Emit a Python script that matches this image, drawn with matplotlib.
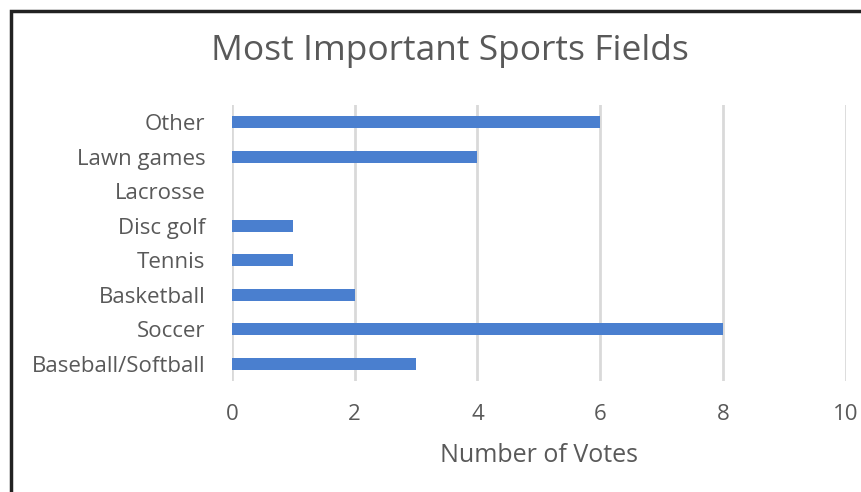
import matplotlib.pyplot as plt
from matplotlib.patches import Rectangle

# data
categories = ["Baseball/Softball", "Soccer", "Basketball", "Tennis",
              "Disc golf", "Lacrosse", "Lawn games", "Other"]
votes = [3, 8, 2, 1, 1, 0, 4, 6]
x_ticks = [0, 2, 4, 6, 8, 10]

plt.rcParams['font.family'] = ['Open Sans', 'DejaVu Sans']
grey = "#595959"

fig = plt.figure(figsize=(8.62, 4.92), dpi=100)
ax = fig.add_axes([0.2691, 0.225, 0.7118, 0.5622])

ax.barh(range(len(categories)), votes, height=0.35, color="#4a7fcf", zorder=3)

ax.set_xlim(0, 10)
ax.set_ylim(-0.5, len(categories) - 0.5)
ax.set_xticks(x_ticks)
ax.set_yticks(range(len(categories)))
ax.set_yticklabels(categories)
ax.tick_params(axis="both", length=0, labelsize=16, colors=grey)
ax.tick_params(axis="x", pad=16.5)
ax.tick_params(axis="y", pad=19)

ax.grid(axis="x", color="#d9d9d9", linewidth=2, zorder=0)
for s in ax.spines.values():
    s.set_visible(False)

ax.set_xlabel("Number of Votes", fontsize=18, color=grey, labelpad=12.5)
fig.text(0.522, 0.896, "Most Important Sports Fields", fontsize=25.5,
         color=grey, ha="center", va="center")

# outer border, right and bottom edges fall outside the image
fig.patches.append(Rectangle((11 / 862, -0.1), 1.2, 1 - 11 / 492 + 0.1,
                             transform=fig.transFigure, fill=False,
                             edgecolor="#222222", linewidth=2.5))

fig.savefig("out.png", dpi=100)
